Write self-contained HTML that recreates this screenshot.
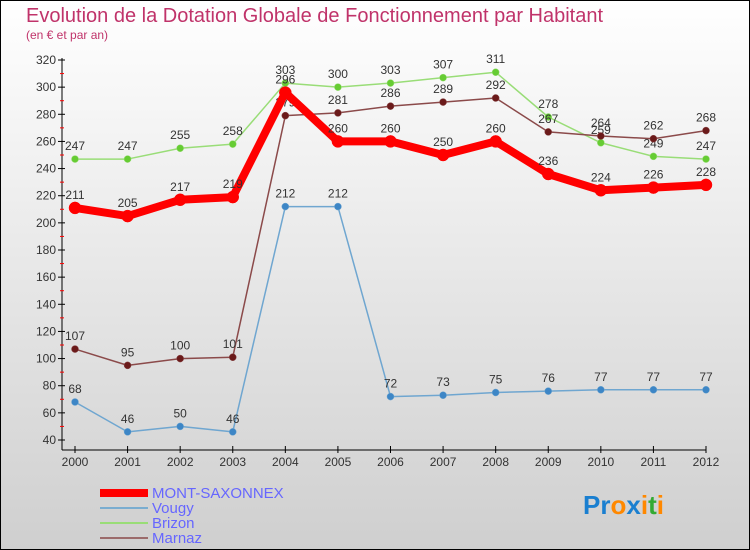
<!DOCTYPE html>
<html><head><meta charset="utf-8"><style>
body{margin:0}
#c{width:750px;height:550px;position:relative;overflow:hidden}
text{font-family:"Liberation Sans",sans-serif}
</style></head><body>
<div id="c">
<svg id="s" width="750" height="550" xmlns="http://www.w3.org/2000/svg">
<defs><linearGradient id="bg" x1="0" y1="0" x2="0" y2="1"><stop offset="0" stop-color="#ffffff"/><stop offset="1" stop-color="#cfcfcf"/></linearGradient></defs>
<rect x="0.5" y="0.5" width="749" height="549" fill="url(#bg)" stroke="#000"/>
<text x="26" y="22" font-size="20" fill="#c0336a">Evolution de la Dotation Globale de Fonctionnement par Habitant</text>
<text x="26" y="39" font-size="12" fill="#c0336a">(en € et par an)</text>
<g id="axes"></g><g id="series"></g>
<g>
<rect x="100" y="489" width="48" height="8" fill="#ff0000"/>
<text x="152" y="498" font-size="15" fill="#6666ff">MONT-SAXONNEX</text>
<rect x="100" y="507" width="48" height="2" fill="#7aadd0"/>
<text x="152" y="513" font-size="15" fill="#6666ff">Vougy</text>
<rect x="100" y="522" width="48" height="2" fill="#99dd77"/>
<text x="152" y="528" font-size="15" fill="#6666ff">Brizon</text>
<rect x="100" y="537" width="48" height="2" fill="#9b6b6b"/>
<text x="152" y="543" font-size="15" fill="#6666ff">Marnaz</text>
</g>
<g font-size="26" font-weight="bold">
<text x="583" y="514"><tspan fill="#1a7fd0">Pr</tspan><tspan fill="#ff8800">o</tspan><tspan fill="#1a7fd0">x</tspan><tspan fill="#ff8800">i</tspan><tspan fill="#33aa33">t</tspan><tspan fill="#ff8800">i</tspan></text>
</g>
</svg></div>
<script>
const years=[2000,2001,2002,2003,2004,2005,2006,2007,2008,2009,2010,2011,2012];
const yTicks=[40,60,80,100,120,140,160,180,200,220,240,260,280,300,320];
const mont=[211,205,217,219,296,260,260,250,260,236,224,226,228];
const vougy=[68,46,50,46,212,212,72,73,75,76,77,77,77];
const brizon=[247,247,255,258,303,300,303,307,311,278,259,249,247];
const marnaz=[107,95,100,101,279,281,286,289,292,267,264,262,268];
const NS="http://www.w3.org/2000/svg";
function X(i){return 75+i*(706-75)/12;}
function Y(v){return 440-(v-40)*380/280;}
function mk(tag,attrs,parent){const e=document.createElementNS(NS,tag);for(const k in attrs)e.setAttribute(k,attrs[k]);parent.appendChild(e);return e;}
const ax=document.getElementById('axes');
let l=mk('line',{x1:62,y1:58,x2:62,y2:450,stroke:'#000'},ax);


l=mk('line',{x1:62,y1:450,x2:706,y2:450,stroke:'#000'},ax);


yTicks.forEach((t,i)=>{
  mk('line',{x1:58,y1:Y(t),x2:65,y2:Y(t),stroke:'#000'},ax);
  if(i<yTicks.length-1) mk('line',{x1:60,y1:Y(t+10),x2:64,y2:Y(t+10),stroke:'#f00'},ax);
  const tx=mk('text',{x:56,y:Y(t)+4,'font-size':12,'text-anchor':'end',fill:'#333'},ax);
  tx.textContent=t;
  
  
});
years.forEach((yr,i)=>{
  mk('line',{x1:X(i),y1:446,x2:X(i),y2:453,stroke:'#000'},ax);
  const tx=mk('text',{x:X(i),y:466,'font-size':12,'text-anchor':'middle',fill:'#333'},ax);
  tx.textContent=yr;
  
  
});
const sg=document.getElementById('series');
function draw(vals,name,color,dot,w,r){
  const g=mk('g',{},sg);
  
  
  const p=mk('polyline',{points:vals.map((v,i)=>X(i)+','+Y(v)).join(' '),fill:'none',stroke:color,'stroke-width':w,'stroke-linejoin':'round'},g);
  
  
  vals.forEach((v,i)=>{
    const c=mk('circle',{cx:X(i),cy:Y(v),r:r,fill:dot,stroke:color,'stroke-width':0.5},g);
    
    
    const t=mk('text',{x:X(i),y:Y(v)-9,'font-size':12,'text-anchor':'middle',fill:'#333'},g);
    t.textContent=v;
    
    
  });
}
draw(vougy,'vougy','#6fa6d0','#3d86c6',1.5,3.5);
draw(brizon,'brizon','#99dd77','#66cc33',1.5,3.5);
draw(marnaz,'marnaz','#8b4a4a','#6b1a1a',1.5,3.5);
draw(mont,'mont-saxonnex','#ff0000','#ff0000',8,6);
</script>
</body></html>
